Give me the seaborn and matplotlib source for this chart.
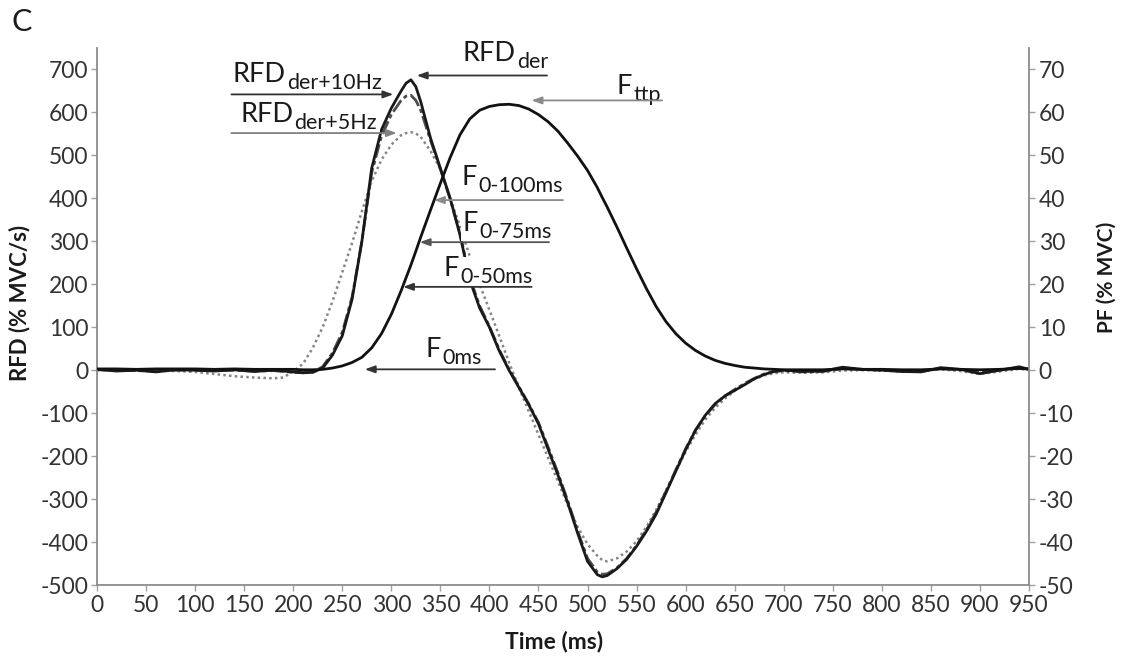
import matplotlib
matplotlib.use("Agg")
import matplotlib.pyplot as plt
from matplotlib.patches import Rectangle
from matplotlib.transforms import Bbox
import pandas as pd
import seaborn as sns

# ---------------- data ----------------
time_ms = [0, 20, 40, 60, 80, 100, 120, 140, 160, 180,
           190, 200, 210, 220, 230, 240, 250, 260, 270, 280, 290, 300, 310,
           315, 320, 325,
           330, 340, 350, 360, 370, 380, 390, 400, 410, 420, 430, 440, 450,
           460, 470, 480, 490, 500, 510,
           515,
           520, 530, 540, 550, 560, 570, 580, 590, 600, 610, 620, 630, 640,
           650, 660, 670, 680, 690, 700,
           720, 740, 760, 780, 800, 820, 840, 860, 880, 900, 920, 940, 950]

rfd_der = [2, -2, 0, -4, 1, 0, -2, 1, -3, 0,
           -2, -4, -6, -5, 5, 35, 80, 165, 300, 470, 560, 610, 650,
           668, 676, 660,
           625, 540, 470, 400, 315, 210, 145, 100, 45, 0, -40, -80, -125,
           -185, -245, -310, -380, -445, -476,
           -481,
           -478, -462, -440, -410, -375, -335, -285, -235, -185, -140, -105, -78, -60,
           -47, -34, -20, -10, -3, 0,
           -3, -2, 7, 2, 0, -3, -4, 6, 2, -8, 0, 8, 2]

rfd_der_10hz = [1, 0, -1, -2, 0, 0, -1, 0, -2, -1,
                -3, -5, -6, -4, 8, 40, 88, 170, 300, 460, 545, 595, 628,
                638, 640, 628,
                605, 535, 468, 398, 318, 215, 150, 102, 48, 2, -38, -78, -122,
                -180, -240, -305, -375, -438, -470,
                -475,
                -474, -460, -438, -408, -372, -330, -282, -232, -183, -140, -106, -80, -60,
                -45, -31, -19, -9, -3, -1,
                -4, -3, 4, 2, 0, -2, -3, 4, 1, -6, 0, 6, 2]

rfd_der_5hz = [0, 0, -1, -1, -2, -4, -9, -14, -17, -19,
               -17, -3, 15, 52, 100, 160, 228, 296, 370, 440, 490, 525, 547,
               552, 554, 551,
               543, 510, 468, 400, 335, 265, 200, 140, 80, 18, -40, -95, -150,
               -205, -260, -315, -365, -405, -432,
               -442,
               -445, -438, -422, -398, -365, -325, -280, -235, -190, -150, -115, -88, -66,
               -48, -33, -21, -12, -7, -5,
               -6, -5, -1, 0, -1, -3, -2, 2, -2, -9, -3, 3, 1]

force_pf = [0.3, 0.3, 0.2, 0.3, 0.3, 0.3, 0.2, 0.3, 0.2, 0.2,
            0.2, 0.2, 0.1, 0.1, 0.2, 0.5, 1.0, 1.8, 3.0, 5.2, 8.5, 13.0, 18.5,
            21.5, 24.5, 27.7,
            31.0, 37.3, 43.5, 49.5, 54.8, 58.5, 60.5, 61.4, 61.8, 61.9, 61.6, 60.8, 59.5,
            57.8, 55.6, 52.8, 49.8, 46.5, 42.5,
            40.2,
            38.0, 33.3, 28.4, 23.6, 19.0, 14.8, 11.3, 8.5, 6.3, 4.6, 3.3, 2.3, 1.6,
            1.1, 0.7, 0.5, 0.3, 0.2, 0.1,
            0.1, 0.1, 0.3, 0.2, 0.2, 0.1, 0.1, 0.3, 0.2, 0.1, 0.2, 0.4, 0.3]

x_ticks = list(range(0, 951, 50))
rfd_ticks = list(range(-500, 701, 100))
pf_ticks = list(range(-50, 71, 10))

# annotation labels: main text, subscript
ann_main = ["RFD", "RFD", "RFD", "F", "F", "F", "F", "F"]
ann_sub = ["der", "der+10Hz", "der+5Hz", "ttp", "0-100ms", "0-75ms", "0-50ms", "0ms"]
# text anchor (time, PF), arrow (y PF, start time, tip time), arrow colour
ann_text_xy = [(373, 72.0), (138.6, 67.1), (145.8, 57.8), (530, 64.3),
               (371.8, 43.0), (373, 32.4), (352.7, 21.9), (334.4, 3.0)]
ann_arrow = [(68.6, 458.7, 326), (64.2, 137, 302), (55.2, 137, 305.5), (62.8, 576, 443),
             (39.6, 475, 343.5), (29.8, 460.8, 329), (19.4, 443, 312), (0.2, 405.7, 273)]
ann_arrow_col = ["#333333", "#333333", "#808080", "#8a8a8a",
                 "#8a8a8a", "#555555", "#333333", "#333333"]

# ---------------- plotting ----------------
sns.set_style("ticks")
plt.rcParams["font.family"] = ["Lato", "DejaVu Sans"]
plt.rcParams["axes.unicode_minus"] = False

W, H = 1121, 659
fig = plt.figure(figsize=(W / 100, H / 100), dpi=100)
L, R, B, T = 97, 1029, 585, 48
ax = fig.add_axes([L / W, 1 - B / H, (R - L) / W, (B - T) / H])
ax2 = ax.twinx()

df = pd.DataFrame({"time": time_ms, "rfd_der": rfd_der, "rfd_10": rfd_der_10hz,
                   "rfd_5": rfd_der_5hz, "force": force_pf})

sns.lineplot(data=df, x="time", y="rfd_5", ax=ax, color="#858585", lw=1.8,
             linestyle=(0, (1.0, 1.3)), sort=False, estimator=None)
sns.lineplot(data=df, x="time", y="rfd_10", ax=ax, color="#4d4d4d", lw=2.0,
             linestyle=(0, (5, 1.2, 1.5, 1.2)), sort=False, estimator=None)
sns.lineplot(data=df, x="time", y="rfd_der", ax=ax, color="#1a1a1a", lw=2.0,
             sort=False, estimator=None)
sns.lineplot(data=df, x="time", y="force", ax=ax2, color="#111111", lw=2.0,
             sort=False, estimator=None, zorder=2)

ax.set_xlim(0, 950)
ax.set_ylim(-500, 750)
ax2.set_ylim(-50, 75)
ax.set_xticks(x_ticks)
ax.set_yticks(rfd_ticks)
ax2.set_yticks(pf_ticks)

spine_col = "#8c8c8c"
for a in (ax, ax2):
    for s in a.spines.values():
        s.set_visible(False)
for s in ("left", "bottom"):
    ax.spines[s].set_visible(True)
    ax.spines[s].set_color(spine_col)
    ax.spines[s].set_linewidth(1.3)
ax2.spines["right"].set_visible(True)
ax2.spines["right"].set_color(spine_col)
ax2.spines["right"].set_linewidth(1.3)

tick_kw = dict(direction="out", length=4, width=1, color="#a0a0a0",
               labelsize=16.5, labelcolor="#333333")
ax.tick_params(axis="x", pad=3, **tick_kw)
ax.tick_params(axis="y", pad=2, left=True, **tick_kw)
ax2.tick_params(axis="y", pad=3, right=True, **tick_kw)

lab_kw = dict(fontsize=16, fontweight="bold", color="#1a1a1a")
ax.set_xlabel("Time (ms)", fontsize=16.5, fontweight="bold", color="#1a1a1a")
ax.set_ylabel("RFD (% MVC/s)", **lab_kw)
ax2.set_ylabel("PF (% MVC)", fontsize=15, fontweight="bold", color="#1a1a1a")
ax.xaxis.set_label_coords(0.49, -0.085)
ax.yaxis.set_label_coords(-0.071, 0.525)
ax2.yaxis.set_label_coords(1.073, 0.572)

fig.text(12 / W, 1 - 8 / H, "C", fontsize=22, va="top", ha="left", color="#1a1a1a")

# annotations with subscripts
labels = []
for main, sub, (tx, ty), (ay, a0, a1), col in zip(ann_main, ann_sub, ann_text_xy,
                                                  ann_arrow, ann_arrow_col):
    ax2.annotate("", xy=(a1, ay), xytext=(a0, ay), zorder=8,
                 arrowprops=dict(arrowstyle="-|>,head_length=0.6,head_width=0.22",
                                 color=col, lw=1.3, shrinkA=0, shrinkB=0))
    t_main = ax2.text(tx, ty, main, fontsize=19.5, color="#1a1a1a", ha="left",
                      va="baseline", zorder=7)
    t_sub = ax2.annotate(sub, xy=(1, 0), xycoords=t_main, xytext=(1.5, -2.0),
                         textcoords="offset pixels", fontsize=15.5, color="#1a1a1a",
                         ha="left", va="baseline", zorder=7)
    labels.append((t_main, t_sub))

# white backing box behind each label group (hides lines passing underneath)
fig.canvas.draw()
renderer = fig.canvas.get_renderer()
for t_main, t_sub in labels:
    bb = Bbox.union([t_main.get_window_extent(renderer), t_sub.get_window_extent(renderer)])
    bb = Bbox.from_extents(bb.x0 - 2, bb.y0 + 1, bb.x1 + 3, bb.y1 - 1)
    fb = bb.transformed(fig.transFigure.inverted())
    ax2.add_patch(Rectangle((fb.x0, fb.y0), fb.width, fb.height, transform=fig.transFigure,
                            facecolor="white", edgecolor="none", zorder=6, clip_on=False))

fig.savefig("out.png", dpi=100)
